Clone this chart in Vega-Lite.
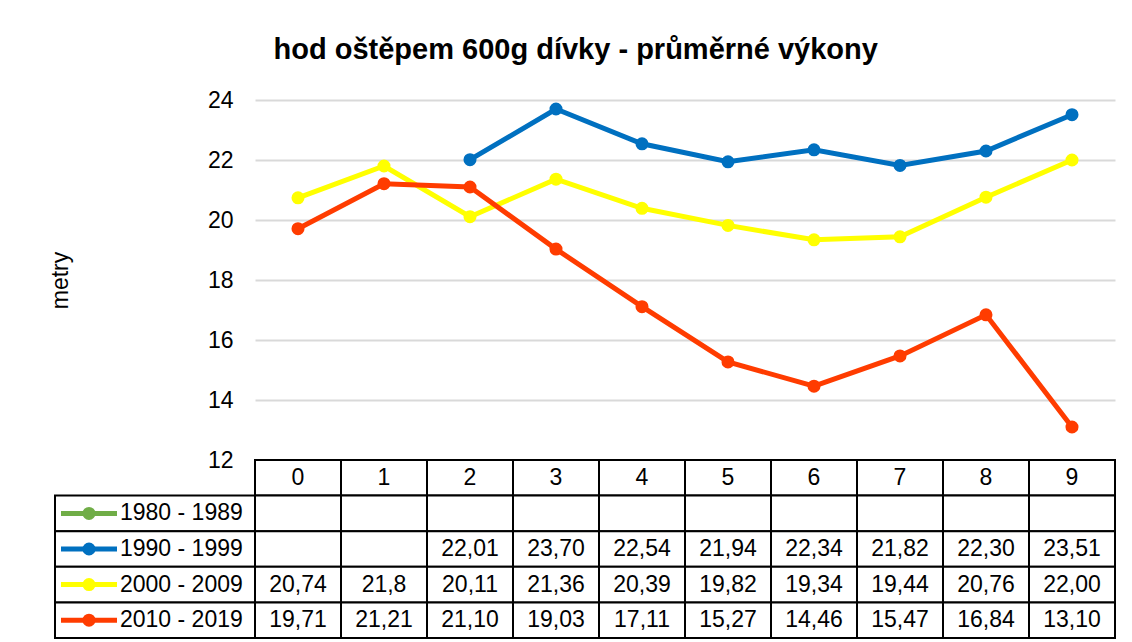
{
  "$schema": "https://vega.github.io/schema/vega-lite/v6.json",
  "background": "white",
  "padding": {"left": 49, "top": 36, "right": 10, "bottom": 2},
  "title": {"text": "hod oštěpem 600g dívky - průměrné výkony", "font": "Liberation Sans", "fontSize": 29, "fontWeight": "bold", "color": "#000000", "anchor": "middle", "offset": 24, "dx": -7},
  "config": {"view": {"stroke": null}, "font": "Liberation Sans"},
  "datasets": {
    "perf": [
      {"decade": "1980 - 1989", "x": 0, "value": null, "label": null},
      {"decade": "1980 - 1989", "x": 1, "value": null, "label": null},
      {"decade": "1980 - 1989", "x": 2, "value": null, "label": null},
      {"decade": "1980 - 1989", "x": 3, "value": null, "label": null},
      {"decade": "1980 - 1989", "x": 4, "value": null, "label": null},
      {"decade": "1980 - 1989", "x": 5, "value": null, "label": null},
      {"decade": "1980 - 1989", "x": 6, "value": null, "label": null},
      {"decade": "1980 - 1989", "x": 7, "value": null, "label": null},
      {"decade": "1980 - 1989", "x": 8, "value": null, "label": null},
      {"decade": "1980 - 1989", "x": 9, "value": null, "label": null},
      {"decade": "1990 - 1999", "x": 0, "value": null, "label": null},
      {"decade": "1990 - 1999", "x": 1, "value": null, "label": null},
      {"decade": "1990 - 1999", "x": 2, "value": 22.01, "label": "22,01"},
      {"decade": "1990 - 1999", "x": 3, "value": 23.70, "label": "23,70"},
      {"decade": "1990 - 1999", "x": 4, "value": 22.54, "label": "22,54"},
      {"decade": "1990 - 1999", "x": 5, "value": 21.94, "label": "21,94"},
      {"decade": "1990 - 1999", "x": 6, "value": 22.34, "label": "22,34"},
      {"decade": "1990 - 1999", "x": 7, "value": 21.82, "label": "21,82"},
      {"decade": "1990 - 1999", "x": 8, "value": 22.30, "label": "22,30"},
      {"decade": "1990 - 1999", "x": 9, "value": 23.51, "label": "23,51"},
      {"decade": "2000 - 2009", "x": 0, "value": 20.74, "label": "20,74"},
      {"decade": "2000 - 2009", "x": 1, "value": 21.8, "label": "21,8"},
      {"decade": "2000 - 2009", "x": 2, "value": 20.11, "label": "20,11"},
      {"decade": "2000 - 2009", "x": 3, "value": 21.36, "label": "21,36"},
      {"decade": "2000 - 2009", "x": 4, "value": 20.39, "label": "20,39"},
      {"decade": "2000 - 2009", "x": 5, "value": 19.82, "label": "19,82"},
      {"decade": "2000 - 2009", "x": 6, "value": 19.34, "label": "19,34"},
      {"decade": "2000 - 2009", "x": 7, "value": 19.44, "label": "19,44"},
      {"decade": "2000 - 2009", "x": 8, "value": 20.76, "label": "20,76"},
      {"decade": "2000 - 2009", "x": 9, "value": 22.00, "label": "22,00"},
      {"decade": "2010 - 2019", "x": 0, "value": 19.71, "label": "19,71"},
      {"decade": "2010 - 2019", "x": 1, "value": 21.21, "label": "21,21"},
      {"decade": "2010 - 2019", "x": 2, "value": 21.10, "label": "21,10"},
      {"decade": "2010 - 2019", "x": 3, "value": 19.03, "label": "19,03"},
      {"decade": "2010 - 2019", "x": 4, "value": 17.11, "label": "17,11"},
      {"decade": "2010 - 2019", "x": 5, "value": 15.27, "label": "15,27"},
      {"decade": "2010 - 2019", "x": 6, "value": 14.46, "label": "14,46"},
      {"decade": "2010 - 2019", "x": 7, "value": 15.47, "label": "15,47"},
      {"decade": "2010 - 2019", "x": 8, "value": 16.84, "label": "16,84"},
      {"decade": "2010 - 2019", "x": 9, "value": 13.10, "label": "13,10"}
    ],
    "cols": [{"x": 0}, {"x": 1}, {"x": 2}, {"x": 3}, {"x": 4}, {"x": 5}, {"x": 6}, {"x": 7}, {"x": 8}, {"x": 9}],
    "decades": [{"decade": "1980 - 1989"}, {"decade": "1990 - 1999"}, {"decade": "2000 - 2009"}, {"decade": "2010 - 2019"}]
  },
  "columns": 2,
  "spacing": 0,
  "bounds": "flush",
  "align": "each",
  "concat": [
    {
      "width": 200,
      "height": 360,
      "data": {"name": "decades"},
      "mark": {"type": "text"},
      "encoding": {"text": {"value": ""}}
    },
    {
      "width": 860,
      "height": 360,
      "data": {"name": "perf"},
      "encoding": {
        "x": {"field": "x", "type": "ordinal", "scale": {"type": "point", "padding": 0.5, "domain": [0, 1, 2, 3, 4, 5, 6, 7, 8, 9]}, "axis": null},
        "y": {
          "field": "value", "type": "quantitative",
          "scale": {"domain": [12, 24], "nice": false, "zero": false},
          "axis": {"values": [12, 14, 16, 18, 20, 22, 24], "title": "metry", "grid": true, "gridColor": "#D9D9D9", "gridWidth": 2, "domain": false, "ticks": false, "tickSize": 0, "labelFont": "Liberation Sans", "labelFontSize": 23, "labelColor": "#000000", "labelPadding": 22, "titleFont": "Liberation Sans", "titleFontSize": 23, "titleFontWeight": "normal", "titleColor": "#000000", "titlePadding": 135}
        },
        "color": {
          "field": "decade", "type": "nominal",
          "scale": {"domain": ["1980 - 1989", "1990 - 1999", "2000 - 2009", "2010 - 2019"], "range": ["#70AD47", "#0070C0", "#FFFF00", "#FF3C00"]},
          "legend": null
        }
      },
      "layer": [
        {"mark": {"type": "line", "strokeWidth": 5}},
        {"mark": {"type": "point", "filled": true, "opacity": 1, "size": 170}}
      ]
    },
    {
      "width": 200,
      "height": 178,
      "data": {"name": "decades"},
      "encoding": {
        "y": {"field": "decade", "type": "nominal", "scale": {"domain": ["hdr", "1980 - 1989", "1990 - 1999", "2000 - 2009", "2010 - 2019"], "paddingInner": 0, "paddingOuter": 0}, "axis": null}
      },
      "layer": [
        {"mark": {"type": "rect", "fill": "white", "stroke": "black", "strokeWidth": 2}},
        {
          "mark": {"type": "point", "shape": "stroke", "size": 3136, "strokeWidth": 5, "opacity": 1, "filled": false, "xOffset": -66},
          "encoding": {"color": {"field": "decade", "type": "nominal", "scale": {"domain": ["1980 - 1989", "1990 - 1999", "2000 - 2009", "2010 - 2019"], "range": ["#70AD47", "#0070C0", "#FFFF00", "#FF3C00"]}, "legend": null}}
        },
        {
          "mark": {"type": "point", "shape": "circle", "size": 170, "opacity": 1, "filled": true, "xOffset": -66},
          "encoding": {"color": {"field": "decade", "type": "nominal", "scale": {"domain": ["1980 - 1989", "1990 - 1999", "2000 - 2009", "2010 - 2019"], "range": ["#70AD47", "#0070C0", "#FFFF00", "#FF3C00"]}, "legend": null}}
        },
        {
          "mark": {"type": "text", "align": "left", "dx": -35, "font": "Liberation Sans", "fontSize": 23, "color": "#000000"},
          "encoding": {"text": {"field": "decade"}}
        }
      ]
    },
    {
      "width": 860,
      "height": 178,
      "layer": [
        {
          "data": {"name": "cols"},
          "mark": {"type": "rect", "fill": "white", "stroke": "black", "strokeWidth": 2},
          "encoding": {
            "x": {"field": "x", "type": "ordinal", "scale": {"domain": [0, 1, 2, 3, 4, 5, 6, 7, 8, 9], "paddingInner": 0, "paddingOuter": 0}, "axis": null},
            "y": {"datum": "hdr", "type": "nominal", "scale": {"domain": ["hdr", "1980 - 1989", "1990 - 1999", "2000 - 2009", "2010 - 2019"], "paddingInner": 0, "paddingOuter": 0}, "axis": null}
          }
        },
        {
          "data": {"name": "cols"},
          "mark": {"type": "text", "font": "Liberation Sans", "fontSize": 23, "color": "#000000"},
          "encoding": {
            "x": {"field": "x", "type": "ordinal", "axis": null},
            "y": {"datum": "hdr", "type": "nominal", "axis": null},
            "text": {"field": "x", "type": "nominal"}
          }
        },
        {
          "data": {"name": "perf"},
          "mark": {"type": "rect", "fill": "white", "stroke": "black", "strokeWidth": 2},
          "encoding": {
            "x": {"field": "x", "type": "ordinal", "axis": null},
            "y": {"field": "decade", "type": "nominal", "axis": null}
          }
        },
        {
          "data": {"name": "perf"},
          "transform": [{"filter": "datum.label != null"}],
          "mark": {"type": "text", "font": "Liberation Sans", "fontSize": 23, "color": "#000000"},
          "encoding": {
            "x": {"field": "x", "type": "ordinal", "axis": null},
            "y": {"field": "decade", "type": "nominal", "axis": null},
            "text": {"field": "label", "type": "nominal"}
          }
        }
      ]
    }
  ]
}
